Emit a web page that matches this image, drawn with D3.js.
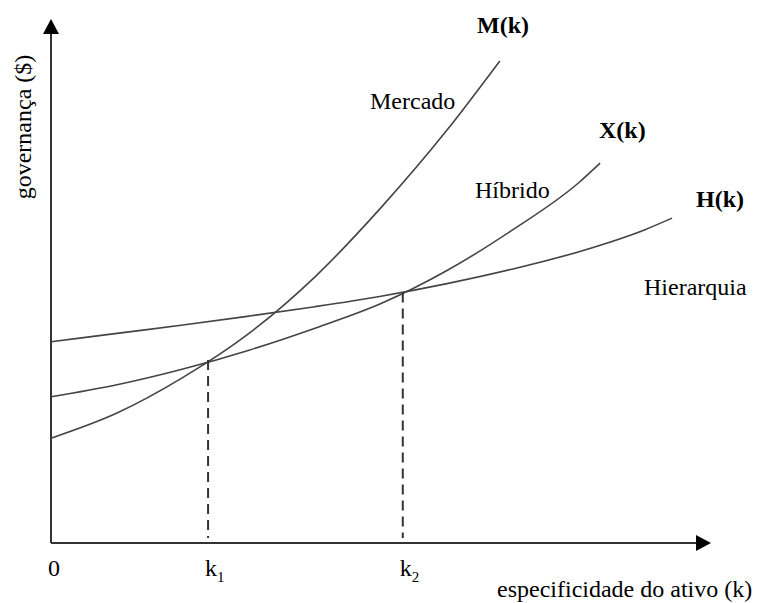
<!DOCTYPE html>
<html>
<head>
<meta charset="utf-8">
<script src="https://cdn.jsdelivr.net/npm/d3@7"></script>
<style>
  html, body { margin: 0; padding: 0; background: #fff; }
  text { font-family: "Liberation Serif", "Times New Roman", serif; fill: #000; }
</style>
</head>
<body>
<script>
// especificidade do ativo (k) vs custo de governança
const kMercado   = [0, 1, 2, 3, 4, 5, 6, 6.8];
const vMercado   = [2.00, 2.48, 3.16, 4.00, 5.08, 6.40, 7.88, 9.20];

const kHibrido   = [0, 1, 2, 3, 4, 5, 6, 7, 8, 8.32];
const vHibrido   = [2.79, 3.02, 3.32, 3.68, 4.10, 4.57, 5.20, 5.98, 6.88, 7.25];

const kHierarquia = [0, 1, 2, 3, 4, 5, 6, 7, 8, 9, 9.41];
const vHierarquia = [3.84, 4.00, 4.16, 4.33, 4.51, 4.71, 4.95, 5.23, 5.56, 5.98, 6.20];

// pontos de cruzamento
const kCortes = [2.38, 5.33];
const vCortes = [3.49, 4.78];
const cortesLabels = ["1", "2"];

const svgWidth = 765;
const svgHeight = 603;

const x = d3.scaleLinear().domain([0, 10]).range([51, 711]);
const y = d3.scaleLinear().domain([0, 10]).range([543, 19]);

const svg = d3.select("body")
    .append("svg")
    .attr("width", svgWidth)
    .attr("height", svgHeight);

const ink = "#333";

// eixos com setas
svg.append("line")
    .attr("x1", x(0)).attr("y1", y(0))
    .attr("x2", x(0)).attr("y2", y(10) + 12)
    .attr("stroke", ink).attr("stroke-width", 2);
svg.append("path")
    .attr("d", `M${x(0)},${y(10)} L${x(0) - 8},${y(10) + 15} L${x(0) + 8},${y(10) + 15} Z`)
    .attr("fill", "#000");

svg.append("line")
    .attr("x1", x(0)).attr("y1", y(0))
    .attr("x2", x(10) - 12).attr("y2", y(0))
    .attr("stroke", ink).attr("stroke-width", 2);
svg.append("path")
    .attr("d", `M${x(10)},${y(0)} L${x(10) - 15},${y(0) - 8} L${x(10) - 15},${y(0) + 8} Z`)
    .attr("fill", "#000");

// curvas
const line = d3.line()
    .x(d => x(d[0]))
    .y(d => y(d[1]))
    .curve(d3.curveMonotoneX);

const series = [
    [kMercado, vMercado],
    [kHibrido, vHibrido],
    [kHierarquia, vHierarquia]
];

svg.selectAll(null)
    .data(series)
    .join("path")
    .attr("d", s => line(d3.zip(s[0], s[1])))
    .attr("fill", "none")
    .attr("stroke", "#444")
    .attr("stroke-width", 1.6);

// linhas tracejadas em k1 e k2
svg.selectAll(null)
    .data(d3.zip(kCortes, vCortes))
    .join("line")
    .attr("x1", d => x(d[0]))
    .attr("x2", d => x(d[0]))
    .attr("y1", d => y(d[1]))
    .attr("y2", y(0) - 5)
    .attr("stroke", ink)
    .attr("stroke-width", 2)
    .attr("stroke-dasharray", "10,6");

// rótulos do eixo x
svg.append("text")
    .attr("x", x(0) - 3).attr("y", 576)
    .attr("font-size", 24)
    .text("0");

const kLab = svg.selectAll(null)
    .data(d3.zip(kCortes, cortesLabels))
    .join("text")
    .attr("x", d => x(d[0]) - 3)
    .attr("y", 576)
    .attr("font-size", 24);
kLab.append("tspan").text("k");
kLab.append("tspan")
    .attr("font-size", 15)
    .attr("dy", 6)
    .text(d => d[1]);

svg.append("text")
    .attr("x", 497).attr("y", 597)
    .attr("font-size", 24)
    .text("especificidade do ativo (k)");

svg.append("text")
    .attr("transform", "translate(31,127) rotate(-90)")
    .attr("text-anchor", "middle")
    .attr("font-size", 24)
    .text("governança ($)");

// nomes das curvas
const nomes = [
    {t: "M(k)", x: 477, y: 33, b: true},
    {t: "X(k)", x: 599, y: 138, b: true},
    {t: "H(k)", x: 696, y: 207, b: true},
    {t: "Mercado", x: 370, y: 109, b: false},
    {t: "Híbrido", x: 475, y: 198, b: false},
    {t: "Hierarquia", x: 644, y: 295, b: false}
];

svg.selectAll(null)
    .data(nomes)
    .join("text")
    .attr("x", d => d.x)
    .attr("y", d => d.y)
    .attr("font-size", 24)
    .attr("font-weight", d => d.b ? "bold" : "normal")
    .text(d => d.t);
</script>
</body>
</html>
